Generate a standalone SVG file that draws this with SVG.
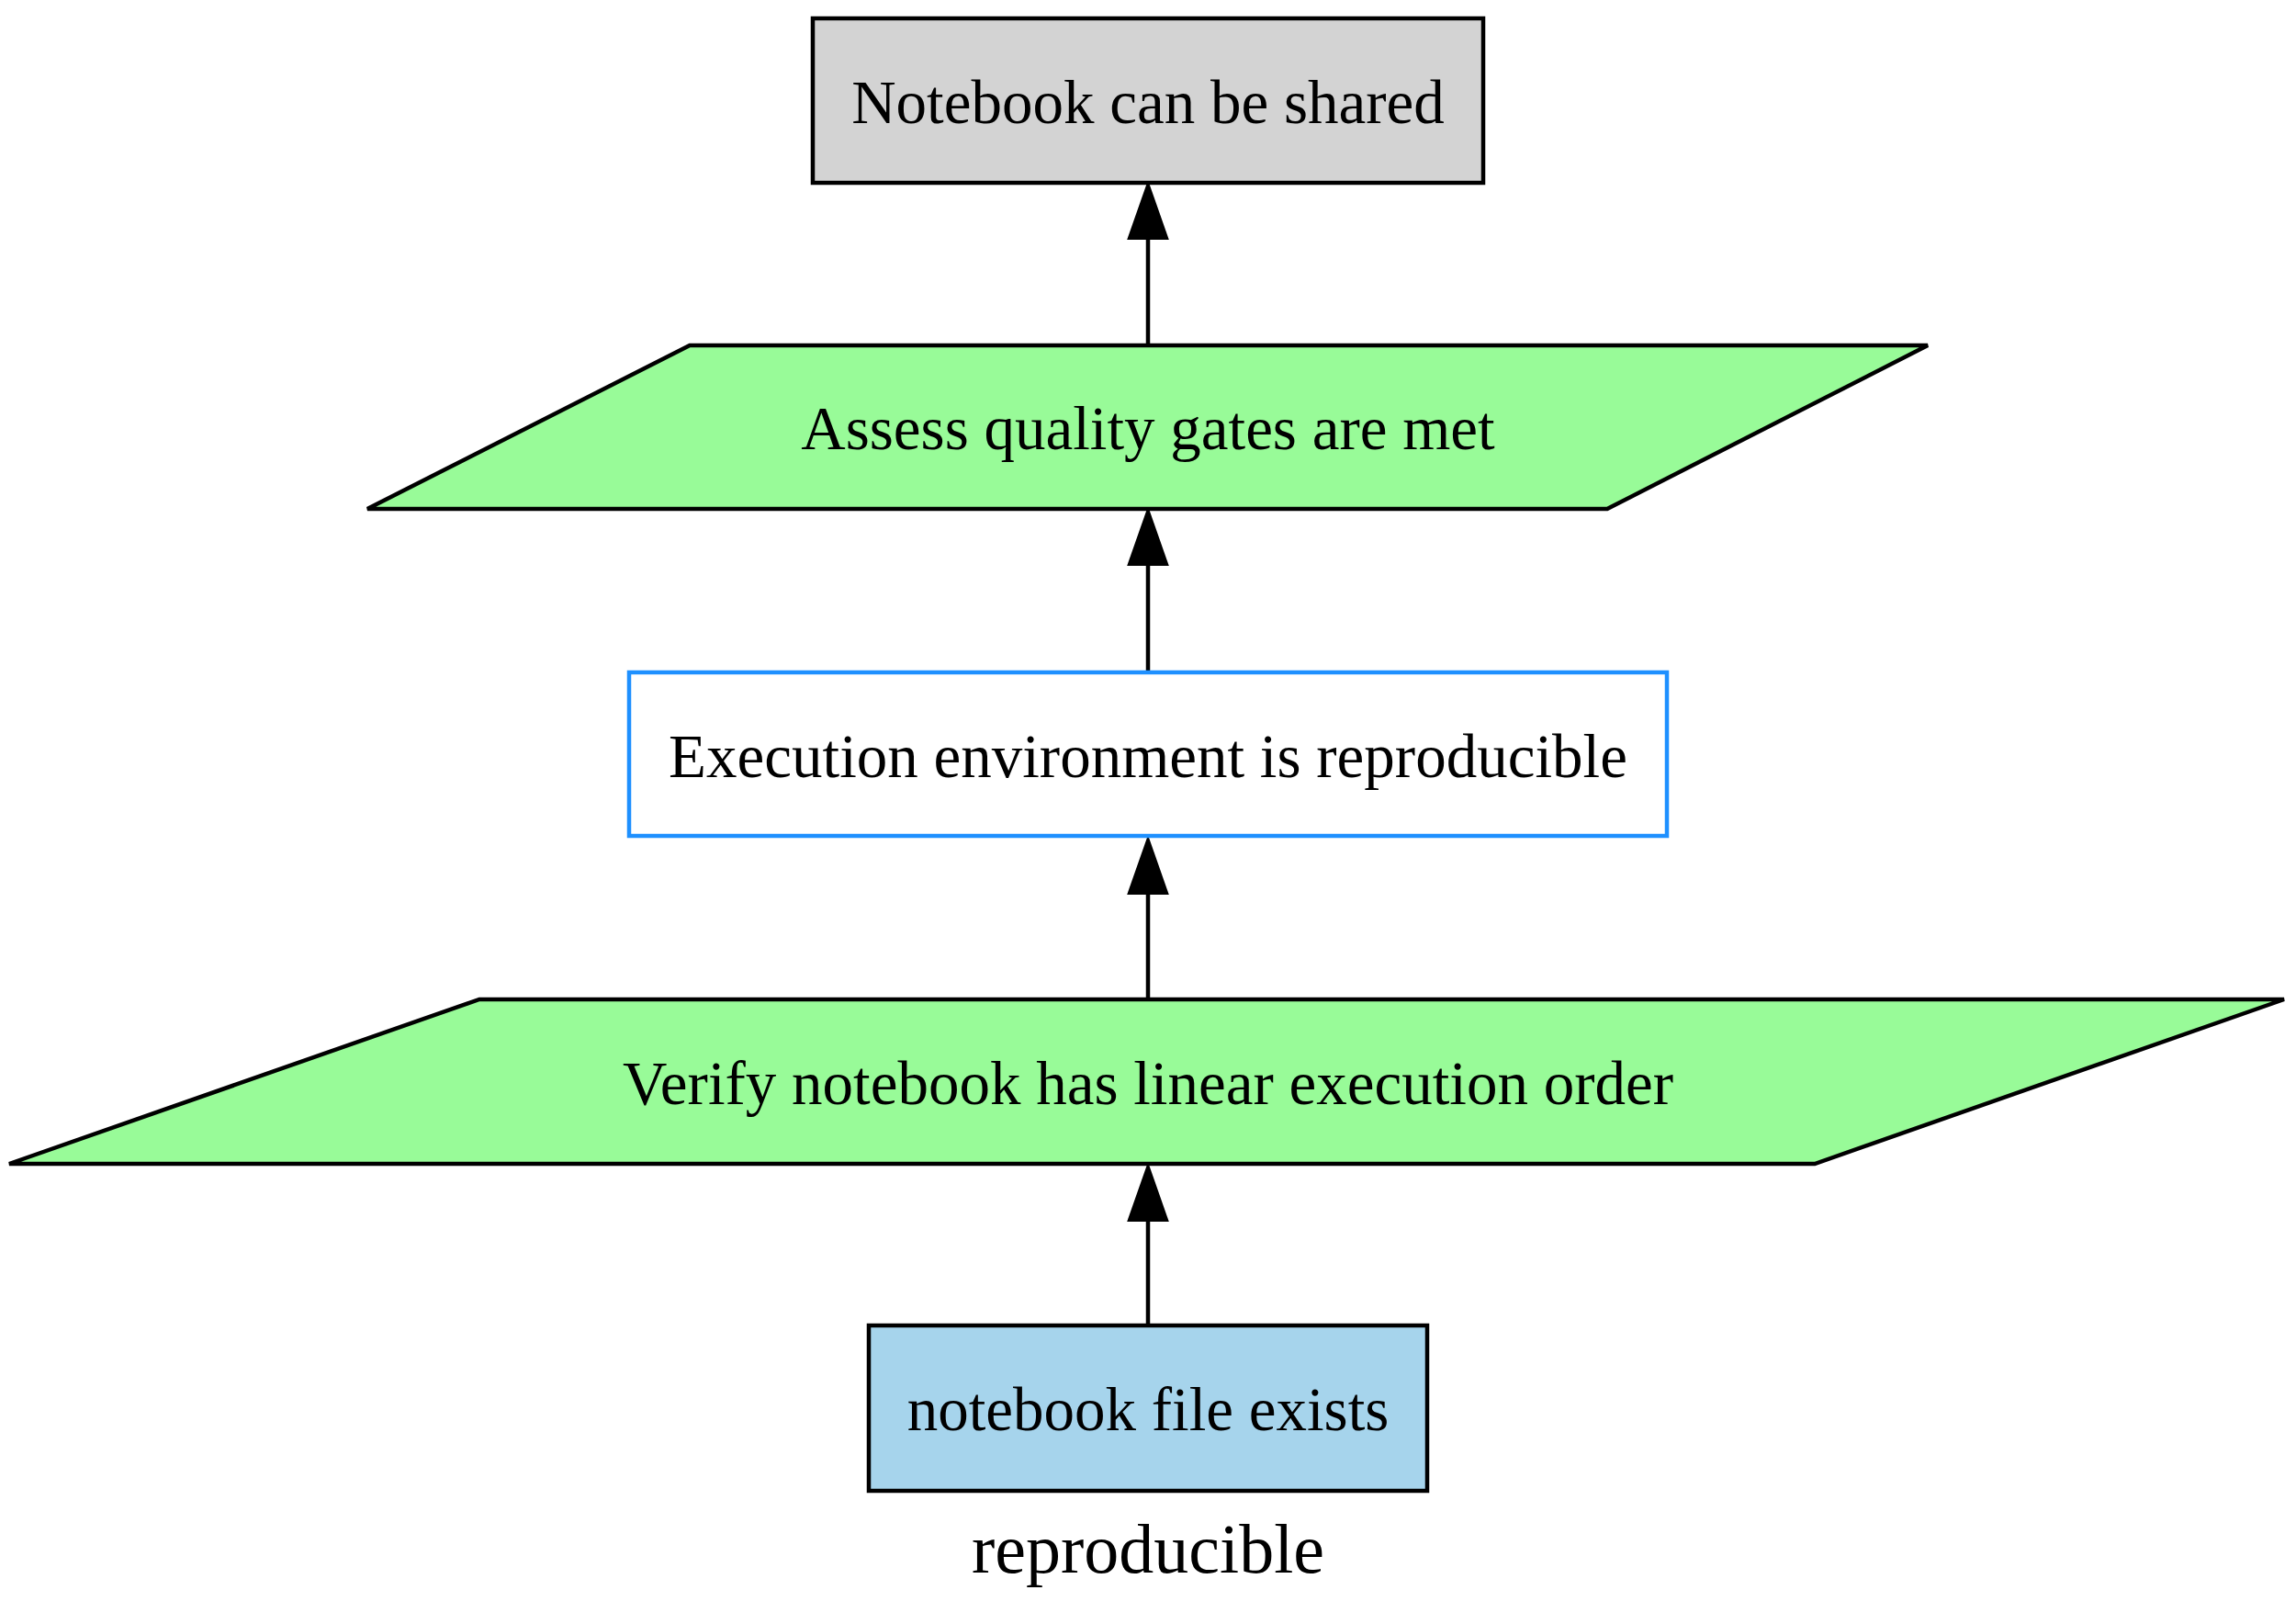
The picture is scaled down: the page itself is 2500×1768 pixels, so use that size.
<svg xmlns="http://www.w3.org/2000/svg" width="2500" height="1768" viewBox="0 0 2500 1768">
<style>
.n{stroke:#000;stroke-width:4.5;}
.t{font-family:"Liberation Serif","Times New Roman",serif;font-size:67px;fill:#000;text-anchor:middle;}
.e{stroke:#000;stroke-width:4.5;fill:none;}
</style>
<defs>
<marker id="ah" markerUnits="userSpaceOnUse" markerWidth="62" markerHeight="44" refX="0" refY="20" orient="auto" overflow="visible">
<path d="M0,0 L57,20 L0,40 Z" fill="#000" stroke="#000" stroke-width="4" stroke-linejoin="miter"/>
</marker>
</defs>
<rect width="2500" height="1768" fill="#fff"/>
<g id="connectors">
<path class="e" d="M1250,1443 L1250,1328" marker-end="url(#ah)"/>
<path class="e" d="M1250,1088 L1250,972" marker-end="url(#ah)"/>
<path class="e" d="M1250,732 L1250,614" marker-end="url(#ah)"/>
<path class="e" d="M1250,376 L1250,259" marker-end="url(#ah)"/>
</g>
<g id="shared">
<rect class="n" x="885" y="20" width="730" height="179" fill="#d3d3d3"/>
<text class="t" x="1250" y="134">Notebook can be shared</text>
</g>
<g id="assess">
<polygon class="n" points="751,376 2099,376 1750,554 400,554" fill="#98fb98"/>
<text class="t" x="1250" y="489">Assess quality gates are met</text>
</g>
<g id="environment">
<rect x="685" y="732" width="1130" height="178" fill="#fff" stroke="#1e90ff" stroke-width="4.5"/>
<text class="t" x="1250" y="846">Execution environment is reproducible</text>
</g>
<g id="verify">
<polygon class="n" points="522,1088 2487,1088 1976,1267 10,1267" fill="#98fb98"/>
<text class="t" x="1250" y="1202">Verify notebook has linear execution order</text>
</g>
<g id="exists">
<rect class="n" x="946" y="1443" width="608" height="180" fill="#a6d4ec"/>
<text class="t" x="1250" y="1557">notebook file exists</text>
</g>
<g id="graph-label">
<text class="t" x="1250" y="1712" style="font-size:76px">reproducible</text>
</g>
</svg>
